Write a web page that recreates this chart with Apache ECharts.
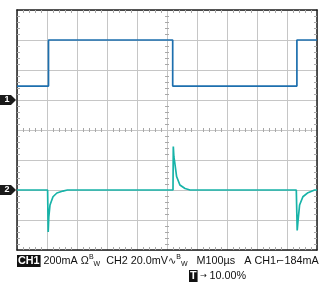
<!DOCTYPE html>
<html><head><meta charset="utf-8">
<script src="https://cdn.jsdelivr.net/npm/echarts@6/dist/echarts.min.js"></script>
<style>html,body{margin:0;padding:0;background:#fff}#c{width:328px;height:283px}</style>
</head><body><div id="c"></div>
<script>
// Time axis (µs), 100 µs / division
const timeTicks = [0, 100, 200, 300, 400, 500, 600, 700, 800, 900, 1000];
// CH1: current (mA), 200 mA / division
const ch1Time    = [0, 105, 105, 519, 519, 933, 933, 1000];
const ch1Current = [93, 93, 400, 400, 93, 93, 400, 400];
// CH2: voltage (mV), 20 mV / division
const ch2Time    = [0, 102, 104, 106, 110, 120, 133, 153, 168, 520, 521, 523, 526, 532, 543, 560, 577, 931, 934, 937, 942, 953, 970, 992, 1000];
const ch2Voltage = [0, 0, -28, -18, -10, -4.5, -2, -0.7, 0, 0, 29, 22, 18, 9, 3.3, 1, 0, 0, -27, -20, -10, -4.5, -1.8, 0, 0];
// Scope readout
const readout1 = ['CH1', '200mA', 'CH2', '20.0mV', 'M100µs', 'A', 'CH1', '184mA'];
const readout2 = ['T', '10.00%'];

const chart = echarts.init(document.getElementById('c'));
const grid = {left: 17, top: 10, width: 300, height: 240, outerBoundsMode: 'none'};
const gridGray = '#c6c6c6', tickGray = '#a8a8a8', frame = '#1e1e1e';
const xMin = timeTicks[0], xMax = timeTicks[timeTicks.length - 1], xInt = timeTicks[1] - timeTicks[0];

function xa(extra) {
  return Object.assign({
    type: 'value', min: xMin, max: xMax, interval: xInt,
    axisLabel: {show: false}, axisTick: {show: false, inside: true},
    splitLine: {show: false},
    axisLine: {show: false, onZero: false},
    minorTick: {show: true, splitNumber: 5, length: 3, lineStyle: {color: tickGray, width: 1}}
  }, extra);
}
function ya(extra, min, max, interval) {
  return Object.assign({
    type: 'value', min: min, max: max, interval: interval,
    axisLabel: {show: false}, axisTick: {show: false, inside: true},
    splitLine: {show: false},
    axisLine: {show: false, onZero: false},
    minorTick: {show: true, splitNumber: 5, length: 3, lineStyle: {color: tickGray, width: 1}}
  }, extra);
}

const option = {
  animation: false,
  backgroundColor: '#fff',
  grid: grid,
  xAxis: [
    xa({position: 'bottom', splitLine: {show: true, lineStyle: {color: gridGray, width: 1}},
        axisLine: {show: true, onZero: false, lineStyle: {color: frame, width: 1.5}}}),
    xa({position: 'top', axisLine: {show: true, onZero: false, lineStyle: {color: frame, width: 1.5}}}),
    xa({position: 'bottom', offset: -120, minorTick: {show: true, splitNumber: 5, length: 2, lineStyle: {color: tickGray}}}),
    xa({position: 'bottom', offset: -120, axisTick: {show: false, inside: false}, minorTick: {show: true, splitNumber: 5, length: 2, lineStyle: {color: tickGray}}})
  ],
  yAxis: [
    ya({position: 'left', splitLine: {show: true, lineStyle: {color: gridGray, width: 1}},
        axisLine: {show: true, onZero: false, lineStyle: {color: frame, width: 1.5}}}, -1000, 600, 200),
    ya({position: 'right', axisLine: {show: true, onZero: false, lineStyle: {color: frame, width: 1.5}}}, -40, 120, 20),
    ya({position: 'left', offset: -150, minorTick: {show: true, splitNumber: 5, length: 2, lineStyle: {color: tickGray}}}, -1000, 600, 200),
    ya({position: 'left', offset: -150, axisTick: {show: false, inside: false}, minorTick: {show: true, splitNumber: 5, length: 2, lineStyle: {color: tickGray}}}, -1000, 600, 200)
  ],
  series: [
    {type: 'line', name: 'CH1', xAxisIndex: 0, yAxisIndex: 0, showSymbol: false, silent: true,
     lineStyle: {color: '#1d6fae', width: 1.7},
     data: ch1Time.map((t, i) => [t, ch1Current[i]])},
    {type: 'line', name: 'CH2', xAxisIndex: 0, yAxisIndex: 1, showSymbol: false, silent: true,
     lineStyle: {color: '#17b3a8', width: 1.7},
     data: ch2Time.map((t, i) => [t, ch2Voltage[i]])}
  ]
};
chart.setOption(option);

function marker(label, y) {
  return {
    type: 'group', x: 0, y: y,
    children: [
      {type: 'polygon', shape: {points: [[0, -5], [11, -5], [16, 0], [11, 5], [0, 5]]}, style: {fill: '#1a1a1a'}},
      {type: 'text', x: 7, y: 0, style: {text: label, fill: '#fff', font: 'bold 9px "Liberation Sans", Arial, sans-serif', align: 'center', verticalAlign: 'middle'}}
    ]
  };
}
const y1 = chart.convertToPixel({yAxisIndex: 0}, 0);
const y2 = chart.convertToPixel({yAxisIndex: 1}, 0);
const font = '"Liberation Sans", Arial, Helvetica, sans-serif';
const rich = {
  box: {backgroundColor: '#111', fill: '#fff', fontWeight: 'bold', fontSize: 10.8, fontFamily: font, padding: [1, 1, 0, 1], lineHeight: 14},
  t: {fill: '#111', fontSize: 10.8, fontFamily: font, lineHeight: 14},
  sup: {fill: '#111', fontSize: 7, fontFamily: font, lineHeight: 8, verticalAlign: 'top'},
  sub: {fill: '#111', fontSize: 7, fontFamily: font, lineHeight: 8, verticalAlign: 'bottom'},
  sym: {fill: '#111', fontSize: 10, fontFamily: 'DejaVu Sans', lineHeight: 14},
  arr: {fill: '#111', fontSize: 8, fontFamily: 'DejaVu Sans', lineHeight: 14}
};
const line1 = '{box|' + readout1[0] + '}{t| ' + readout1[1] + ' Ω}{sup|B}{sub|W}{t|  ' + readout1[2] + ' ' + readout1[3] + '}{sym|∿}{sup|B}{sub|W}{t|   ' + readout1[4] + '   ' + readout1[5] + ' ' + readout1[6] + '}{sym|⌐}{t|' + readout1[7] + '}';
const line2 = '{box|' + readout2[0] + '}{arr| → }{t|' + readout2[1] + '}';
chart.setOption({
  graphic: [
    marker('1', y1),
    marker('2', y2),
    {type: 'text', x: 17, y: 261, style: {text: line1, rich: rich, verticalAlign: 'middle'}},
    {type: 'text', x: 189, y: 276, style: {text: line2, rich: rich, verticalAlign: 'middle'}}
  ]
});
</script></body></html>
